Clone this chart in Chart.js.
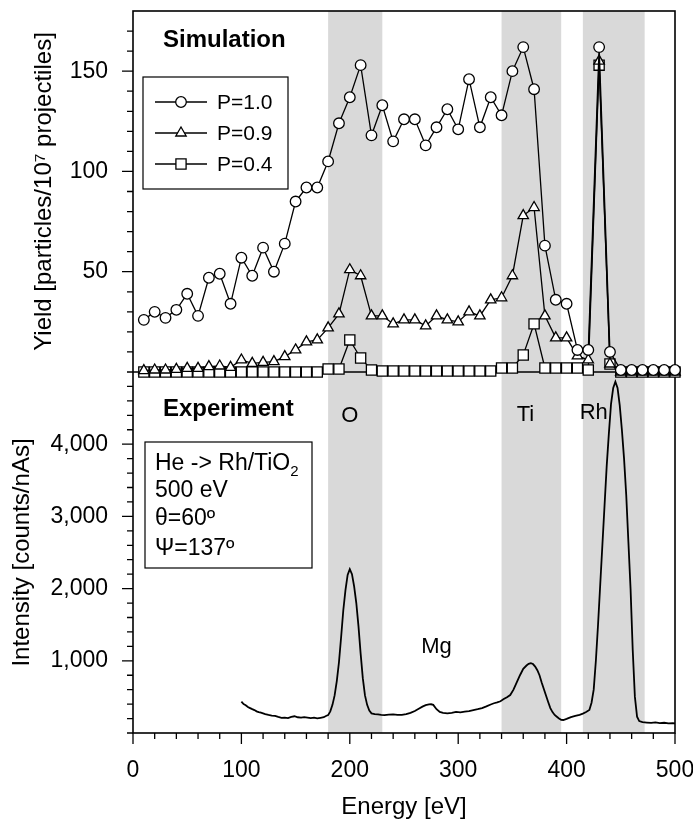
<!DOCTYPE html>
<html>
<head>
<meta charset="utf-8">
<script src="https://cdn.jsdelivr.net/npm/chart.js@4.4.1/dist/chart.umd.min.js"></script>
<style>
  html, body { margin: 0; padding: 0; background: #fff; }
  #wrap { width: 693px; height: 820px; }
</style>
</head>
<body>
<div id="wrap"><canvas id="chart" width="693" height="820"></canvas></div>
<script>
// Simulation (top panel), 10 eV steps
const simEnergy = [10, 20, 30, 40, 50, 60, 70, 80, 90, 100, 110, 120, 130, 140, 150, 160, 170, 180, 190, 200,
  210, 220, 230, 240, 250, 260, 270, 280, 290, 300, 310, 320, 330, 340, 350, 360, 370, 380, 390, 400,
  410, 420, 430, 440, 450, 460, 470, 480, 490, 500];
const yieldP10 = [26, 30, 27, 31, 39, 28, 47, 49, 34, 57, 48, 62, 50, 64, 85, 92, 92, 105, 124, 137,
  153, 118, 133, 115, 126, 126, 113, 122, 131, 121, 146, 122, 137, 128, 150, 162, 141, 63, 36, 34,
  11, 11, 162, 10, 1, 1, 1, 1, 1, 1];
const yieldP09 = [0.7, 1, 1, 1.3, 1.8, 1.8, 2.7, 3, 2.3, 6, 4.3, 4.8, 5.2, 7.7, 11, 15, 16, 22, 29, 51,
  48, 28, 28, 24, 26, 26, 23, 28, 26, 25, 30, 28, 36, 37, 48, 78, 82, 28, 17, 17,
  8, 6, 155, 4, 0, 0, 0, 0, 0, 0];
const yieldP04 = [0, 0, 0, 0, 0, 0, 0, 0, 0, 0, 0, 0, 0, 0, 0, 0, 0, 1.5, 1.5, 16,
  7, 1, 0.5, 0.5, 0.5, 0.5, 0.5, 0.5, 0.5, 0.5, 0.5, 0.5, 0.5, 2, 2, 8.5, 24, 2, 2, 2,
  2, 1, 153, 4, 0, 0, 0, 0, 0, 0];

// Experiment (bottom panel)
const expEnergy = [100, 102, 104, 106, 108, 110, 112, 114, 116, 118, 120, 122, 125, 128, 131, 134, 137, 140, 143, 146,
  149, 152, 155, 158, 161, 164, 167, 170, 173, 176, 178, 180, 182, 184, 186, 188, 190, 192, 194, 196,
  198, 200, 202, 204, 206, 208, 210, 212, 214, 216, 218, 220, 223, 226, 229, 232, 236, 240, 244, 248,
  252, 256, 260, 264, 267, 270, 273, 275, 277, 280, 283, 286, 290, 294, 298, 302, 306, 310, 314, 318,
  322, 326, 330, 333, 336, 339, 342, 345, 348, 351, 354, 357, 360, 363, 365, 367, 369, 371, 373, 375,
  377, 379, 381, 383, 385, 387, 389, 391, 393, 395, 397, 400, 404, 408, 412, 415, 418, 421, 423, 425,
  427, 429, 431, 433, 435, 437, 439, 441, 443, 445, 447, 449, 451, 453, 455, 457, 459, 461, 463, 465,
  467, 470, 474, 478, 482, 486, 490, 494, 498, 500];
const expIntensity = [434, 400, 385, 360, 345, 330, 318, 300, 290, 282, 272, 262, 250, 242, 236, 222, 210, 214, 206, 222,
  232, 218, 212, 220, 214, 207, 212, 203, 210, 218, 235, 248, 300, 390, 520, 720, 980, 1330, 1700, 1980,
  2190, 2270, 2200, 2030, 1800, 1480, 1100, 760, 520, 390, 310, 272, 262, 258, 252, 248, 255, 258, 250, 252,
  262, 278, 305, 340, 365, 385, 396, 398, 390, 330, 292, 278, 272, 280, 292, 286, 296, 304, 318, 330,
  345, 368, 395, 412, 425, 440, 470, 495, 526, 600, 700, 800, 890, 935, 958, 968, 955, 920, 870, 800,
  700, 610, 520, 430, 345, 290, 250, 225, 200, 182, 180, 195, 220, 238, 252, 268, 290, 318, 420, 600,
  1000, 1500, 2050, 2600, 3150, 3700, 4150, 4560, 4780, 4866, 4780, 4540, 4200, 3800, 3300, 2650, 2000, 1150, 500, 226,
  165, 150, 145, 140, 148, 138, 142, 133, 136, 134];

const bandRanges = [[180, 230], [340, 395], [415, 472]];
const energyTicks = [0, 100, 200, 300, 400, 500];
const yieldTicks = [50, 100, 150];
const intensityTicks = [1000, 2000, 3000, 4000];
const seriesNames = ['P=1.0', 'P=0.9', 'P=0.4'];
const peakLabels = ['O', 'Ti', 'Rh', 'Mg'];
const peakEnergy = [200, 362, 425, 280];
const peakIntensity = [4390, 4400, 4430, 1190];

function steps(from, to, step) {
  const out = [];
  for (let v = from; v <= to; v += step) out.push(v);
  return out;
}
const energyAllTicks = steps(0, 500, 20);
const yieldAllTicks = steps(0, 170, 10);
const intensityAllTicks = steps(0, 4800, 200);

const FONT = '"Liberation Sans", Arial, Helvetica, sans-serif';
Chart.defaults.font.family = FONT;
Chart.defaults.color = '#000';

function pairs(xs, ys) {
  return xs.map((x, i) => ({ x: x, y: ys[i] }));
}

function simSet(label, values, style, radius) {
  return {
    label: label,
    data: pairs(simEnergy, values),
    yAxisID: 'ySim',
    borderColor: '#000',
    borderWidth: 1.3,
    pointStyle: style,
    pointRadius: radius,
    pointBackgroundColor: '#fff',
    pointBorderColor: '#000',
    pointBorderWidth: 1.3,
    clip: false
  };
}

const panels = {
  id: 'panels',
  beforeDatasetsDraw(chart) {
    const { ctx, chartArea: a, scales } = chart;
    ctx.save();
    ctx.fillStyle = '#d9d9d9';
    bandRanges.forEach(([s, e]) => {
      const x0 = scales.x.getPixelForValue(s);
      const x1 = scales.x.getPixelForValue(e);
      ctx.fillRect(x0, a.top, x1 - x0, a.bottom - a.top);
    });
    // frame and the line between the panels
    ctx.strokeStyle = '#000';
    ctx.lineWidth = 1.6;
    ctx.strokeRect(a.left, a.top, a.right - a.left, a.bottom - a.top);
    const mid = scales.ySim.getPixelForValue(0);
    ctx.beginPath();
    ctx.moveTo(a.left, mid);
    ctx.lineTo(a.right, mid);
    ctx.stroke();
    ctx.restore();
  },
  afterDatasetsDraw(chart) {
    const { ctx, chartArea: a, scales } = chart;
    const { x, ySim, yExp } = scales;
    ctx.save();
    ctx.strokeStyle = '#000';
    ctx.lineWidth = 1.3;

    // tick marks
    ctx.beginPath();
    x.ticks.forEach(t => {
      const p = x.getPixelForValue(t.value);
      const len = energyTicks.includes(t.value) ? 11 : 6;
      ctx.moveTo(p, a.bottom);
      ctx.lineTo(p, a.bottom + len);
    });
    ySim.ticks.forEach(t => {
      const p = ySim.getPixelForValue(t.value);
      const len = yieldTicks.includes(t.value) ? 11 : 6;
      ctx.moveTo(a.left, p);
      ctx.lineTo(a.left - len, p);
    });
    yExp.ticks.forEach(t => {
      const p = yExp.getPixelForValue(t.value);
      const len = intensityTicks.includes(t.value) ? 11 : 6;
      ctx.moveTo(a.left, p);
      ctx.lineTo(a.left - len, p);
    });
    ctx.stroke();

    // panel titles
    ctx.fillStyle = '#000';
    ctx.textBaseline = 'middle';
    ctx.textAlign = 'left';
    ctx.font = 'bold 24px ' + FONT;
    ctx.fillText('Simulation', a.left + 30, a.top + 29);
    ctx.fillText('Experiment', a.left + 30, ySim.bottom + 37);

    // element labels
    ctx.font = '22px ' + FONT;
    ctx.textAlign = 'center';
    peakLabels.forEach((t, i) => {
      ctx.fillText(t, x.getPixelForValue(peakEnergy[i]), yExp.getPixelForValue(peakIntensity[i]));
    });

    // legend
    const lx = a.left + 10, ly = a.top + 66;
    ctx.lineWidth = 1.2;
    ctx.strokeRect(lx, ly, 145, 112);
    ctx.font = '21px ' + FONT;
    ctx.textAlign = 'left';
    chart.data.datasets.slice(0, 3).forEach((ds, i) => {
      const ry = ly + 25 + i * 31;
      ctx.strokeStyle = '#000';
      ctx.lineWidth = 1.3;
      ctx.beginPath();
      ctx.moveTo(lx + 12, ry);
      ctx.lineTo(lx + 64, ry);
      ctx.stroke();
      ctx.fillStyle = '#fff';
      Chart.helpers.drawPoint(ctx, { pointStyle: ds.pointStyle, radius: ds.pointRadius, rotation: 0, borderWidth: 1.3 }, lx + 38, ry);
      ctx.fillStyle = '#000';
      ctx.fillText(seriesNames[i], lx + 74, ry + 1);
    });

    // info box
    const bx = a.left + 12, by = ySim.bottom + 70;
    ctx.lineWidth = 1.2;
    ctx.strokeRect(bx, by, 167, 126);
    ctx.font = '23px ' + FONT;
    ctx.textBaseline = 'alphabetic';
    const first = 'He -> Rh/TiO';
    ctx.fillText(first, bx + 10, by + 28);
    const w = ctx.measureText(first).width;
    ctx.font = '15px ' + FONT;
    ctx.fillText('2', bx + 10 + w, by + 34);
    ctx.font = '23px ' + FONT;
    ctx.fillText('500 eV', bx + 10, by + 55);
    ctx.fillText('\u03B8=60\u00BA', bx + 10, by + 83);
    ctx.fillText('\u03A8=137\u00BA', bx + 10, by + 113);
    ctx.restore();
  }
};

new Chart(document.getElementById('chart'), {
  type: 'line',
  data: {
    datasets: [
      simSet(seriesNames[0], yieldP10, 'circle', 5.3),
      simSet(seriesNames[1], yieldP09, 'triangle', 6),
      simSet(seriesNames[2], yieldP04, 'rect', 7.2),
      {
        label: 'Experiment',
        data: pairs(expEnergy, expIntensity),
        yAxisID: 'yExp',
        borderColor: '#000',
        borderWidth: 1.8,
        pointRadius: 0,
        tension: 0
      }
    ]
  },
  options: {
    responsive: false,
    animation: false,
    events: [],
    layout: { padding: { top: 11, left: 0, right: 0, bottom: 0 } },
    plugins: { legend: { display: false }, tooltip: { enabled: false } },
    scales: {
      x: {
        type: 'linear',
        min: 0,
        max: 500,
        grid: { display: false },
        border: { display: false },
        afterBuildTicks: s => { s.ticks = energyAllTicks.map(v => ({ value: v })); },
        afterFit: s => { s.height = 87; s.paddingLeft = 0; s.paddingRight = 18; },
        ticks: {
          autoSkip: false, maxRotation: 0, padding: 16, font: { size: 23 },
          callback: v => energyTicks.includes(v) ? String(v) : ''
        },
        title: { display: true, text: 'Energy [eV]', font: { size: 24 }, padding: { top: 0, bottom: -2 } }
      },
      yExp: {
        type: 'linear',
        position: 'left',
        stack: 'panels',
        stackWeight: 1,
        min: 0,
        max: 5000,
        grid: { display: false },
        border: { display: false },
        afterBuildTicks: s => { s.ticks = intensityAllTicks.map(v => ({ value: v })); },
        afterFit: s => { s.width = 133; s.paddingTop = 0; s.paddingBottom = 0; },
        ticks: {
          autoSkip: false, padding: 17, font: { size: 23 },
          callback: v => intensityTicks.includes(v) ? v.toLocaleString('en-US') : ''
        },
        title: { display: true, text: 'Intensity [counts/nAs]', font: { size: 24 }, padding: { top: 8, bottom: 0 } }
      },
      ySim: {
        type: 'linear',
        position: 'left',
        stack: 'panels',
        stackWeight: 1,
        min: 0,
        max: 180,
        grid: { display: false },
        border: { display: false },
        afterBuildTicks: s => { s.ticks = yieldAllTicks.map(v => ({ value: v })); },
        afterFit: s => { s.width = 133; s.paddingTop = 0; s.paddingBottom = 0; },
        ticks: {
          autoSkip: false, padding: 17, font: { size: 23 },
          callback: v => yieldTicks.includes(v) ? String(v) : ''
        },
        title: { display: true, text: 'Yield [particles/10\u2077 projectiles]', font: { size: 24 }, padding: { top: 30, bottom: 0 } }
      }
    }
  },
  plugins: [panels]
});
</script>
</body>
</html>
